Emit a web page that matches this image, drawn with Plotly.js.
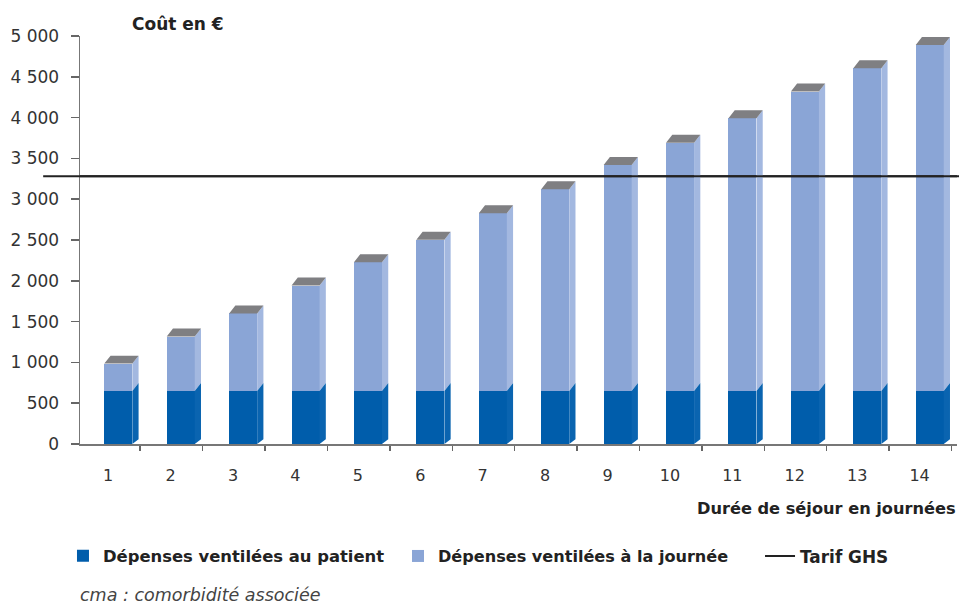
<!DOCTYPE html>
<html>
<head>
<meta charset="utf-8">
<script src="https://cdn.plot.ly/plotly-3.0.1.min.js"></script>
<style>html,body{margin:0;padding:0;background:#fff;}#chart{width:959px;height:606px;}</style>
</head>
<body>
<div id="chart"></div>
<script>
// ---- data ----
const days = [1, 2, 3, 4, 5, 6, 7, 8, 9, 10, 11, 12, 13, 14];
const dayLabels = ['1', '2', '3', '4', '5', '6', '7', '8', '9', '10', '11', '12', '13', '14'];
const patientCost = [650, 650, 650, 650, 650, 650, 650, 650, 650, 650, 650, 650, 650, 650];
const dailyCost = [335, 667, 950, 1292, 1576, 1854, 2179, 2472, 2769, 3042, 3343, 3669, 3956, 4240];
const tarifGHS = [3280];
const yTicks = [0, 500, 1000, 1500, 2000, 2500, 3000, 3500, 4000, 4500, 5000];
const seriesNames = ['Dépenses ventilées au patient', 'Dépenses ventilées à la journée', 'Tarif GHS'];

// ---- styling / geometry ----
const FONT = 'DejaVu Sans, Liberation Sans, Arial, sans-serif';
const DARK = '#005dab';
const LIGHT = '#8aa5d6';
const CAP = '#7f7f82';
const barW = 0.449;          // front face width (x units)
const depthX = 0.1;          // 3D depth offset (x units)
const depthY = 98;           // 3D depth offset (y units)
const xRange = [0.386, 14.437];

// 3D caps and side faces built from the data through the axes
const capX = [], capY = [], sideDX = [], sideDY = [], sideLX = [], sideLY = [];
days.forEach((d, i) => {
  const top = patientCost[i] + dailyCost[i];
  const l = d - barW / 2, r = d + barW / 2;
  capX.push(l, r, r + depthX, l + depthX, l, null);
  capY.push(top, top, top + depthY, top + depthY, top, null);
  const p = patientCost[i];
  sideDX.push(r, r + depthX, r + depthX, r, r, null);
  sideDY.push(0, depthY * 0.6, p + depthY, p, 0, null);
  sideLX.push(r, r + depthX, r + depthX, r, r, null);
  sideLY.push(p, p + depthY, top + depthY, top, p, null);
});

const traces = [
  {type: 'bar', name: seriesNames[0], x: days, y: patientCost, width: barW, legend: 'legend',
   marker: {color: DARK, line: {width: 0}}, hoverinfo: 'skip'},
  {type: 'bar', name: seriesNames[1], x: days, y: dailyCost, width: barW, legend: 'legend2',
   marker: {color: LIGHT, line: {width: 0}}, hoverinfo: 'skip'},
  {type: 'scatter', mode: 'lines', name: seriesNames[2], x: xRange, y: [tarifGHS[0], tarifGHS[0]],
   legend: 'legend3', line: {color: '#222', width: 2}, hoverinfo: 'skip'},
  {type: 'scatter', mode: 'none', x: sideLX, y: sideLY, fill: 'toself', fillcolor: '#a3b8e0',
   showlegend: false, hoverinfo: 'skip'},
  {type: 'scatter', mode: 'none', x: sideDX, y: sideDY, fill: 'toself', fillcolor: '#0a64b0',
   showlegend: false, hoverinfo: 'skip'},
  {type: 'scatter', mode: 'none', x: capX, y: capY, fill: 'toself', fillcolor: CAP,
   showlegend: false, hoverinfo: 'skip'}
];

const legendBase = (x, size) => ({
  orientation: 'h', x: x, xanchor: 'left', y: -0.2745, yanchor: 'middle',
  font: {family: FONT, size: size, color: '#222', weight: 'bold'},
  bgcolor: 'rgba(0,0,0,0)'
});

const layout = {
  width: 959, height: 606,
  margin: {l: 80, r: 2, t: 36, b: 162},
  paper_bgcolor: '#fff', plot_bgcolor: '#fff',
  barmode: 'stack',
  separators: ', ',
  showlegend: true,
  font: {family: FONT, color: '#333'},
  xaxis: {
    range: xRange, showgrid: false, zeroline: false,
    showline: true, linecolor: '#777', linewidth: 1.5,
    tickvals: days.map(d => d + 0.35), ticktext: dayLabels,
    ticks: 'outside', ticklen: 5, tickcolor: '#666', tickwidth: 1.5,
    ticklabelshift: -32, ticklabelstandoff: 11,
    tickfont: {family: FONT, size: 16, color: '#333'}
  },
  yaxis: {
    range: [0, 5000], showgrid: false, zeroline: false,
    showline: true, linecolor: '#777', linewidth: 1.5,
    tickvals: yTicks, separatethousands: true, tickformat: ',d',
    ticks: 'outside', ticklen: 8, tickcolor: '#666', tickwidth: 1.5,
    ticklabelstandoff: 8,
    tickfont: {family: FONT, size: 17, color: '#333'}
  },
  legend: legendBase(-0.0194, 16.4),
  legend2: legendBase(0.3626, 16.1),
  legend3: legendBase(0.7754, 16.9),
  shapes: [
    {type: 'line', xref: 'paper', yref: 'y', x0: -0.042, x1: 1.0023, y0: tarifGHS[0], y1: tarifGHS[0],
     line: {color: '#222', width: 2}, layer: 'above'}
  ],
  annotations: [
    {text: '<b>Coût en €</b>', xref: 'paper', yref: 'paper', x: 0.057, xanchor: 'left',
     y: 1.0294, yanchor: 'middle', showarrow: false, font: {family: FONT, size: 17, color: '#222'}},
    {text: '<b>Durée de séjour en journées</b>', xref: 'paper', yref: 'paper', x: 1.0011, xanchor: 'right',
     y: -0.157, yanchor: 'middle', showarrow: false, font: {family: FONT, size: 16.2, color: '#222'}},
    {text: '<i>cma : comorbidité associée</i>', xref: 'paper', yref: 'paper', x: -0.0023, xanchor: 'left',
     y: -0.370, yanchor: 'middle', showarrow: false, font: {family: FONT, size: 17.5, color: '#444'}}
  ]
};

Plotly.newPlot('chart', traces, layout, {displayModeBar: false, staticPlot: true});
</script>
</body>
</html>
